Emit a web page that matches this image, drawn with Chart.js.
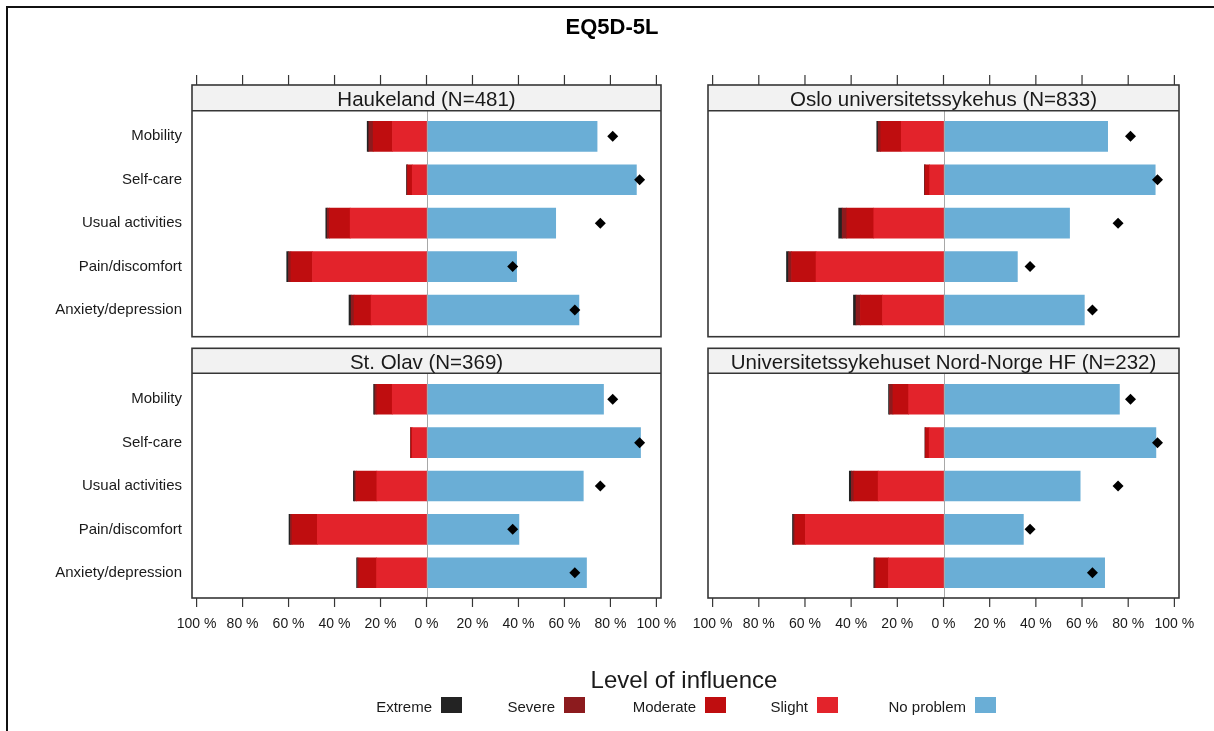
<!DOCTYPE html>
<html>
<head>
<meta charset="utf-8">
<title>EQ5D-5L</title>
<script src="https://cdn.jsdelivr.net/npm/chart.js@4.4.1/dist/chart.umd.min.js"></script>
<style>
  body { margin: 0; background: #fff; }
  #wrap { position: relative; width: 1214px; height: 731px; overflow: hidden; }
  #wrap canvas { position: absolute; left: 0; top: 0; }
</style>
</head>
<body>
<div id="wrap">
  <canvas id="panel0" width="1214" height="731"></canvas>
  <canvas id="panel1" width="1214" height="731"></canvas>
  <canvas id="panel2" width="1214" height="731"></canvas>
  <canvas id="panel3" width="1214" height="731"></canvas>
</div>
<script>
const dims = ['Mobility', 'Self-care', 'Usual activities', 'Pain/discomfort', 'Anxiety/depression'];
const hospitals = ['Haukeland (N=481)', 'Oslo universitetssykehus (N=833)', 'St. Olav (N=369)', 'Universitetssykehuset Nord-Norge HF (N=232)'];
const levels = ['Extreme', 'Severe', 'Moderate', 'Slight', 'No problem'];
const colors = ['#232323', '#8c1b1e', '#bf0d0f', '#e3232b', '#6aaed6'];
const tickValues = [-100, -80, -60, -40, -20, 0, 20, 40, 60, 80, 100];

// percent per hospital, in dims order
const noProblem = [
    [74.2, 91.3, 56.2, 39.2, 66.3],
    [71.1, 91.7, 54.6, 32.0, 61.0],
    [77.0, 93.1, 68.2, 40.2, 69.6],
    [76.2, 92.0, 59.2, 34.6, 69.8]
];
const slight = [
    [14.8, 6.2, 33.2, 49.6, 24.1],
    [18.3, 6.0, 30.2, 55.2, 26.4],
    [14.9, 6.2, 21.6, 47.5, 21.7],
    [15.1, 6.2, 28.3, 59.8, 23.8]
];
const moderate = [
    [8.4, 2.0, 9.1, 9.4, 7.4],
    [8.9, 1.9, 11.7, 10.6, 9.6],
    [6.7, 0.5, 8.9, 11.0, 7.7],
    [6.8, 1.5, 10.5, 4.5, 5.4]
];
const severe = [
    [1.9, 0.3, 0.9, 1.0, 1.3],
    [1.1, 0.3, 2.0, 1.3, 1.9],
    [0.9, 0.2, 0.7, 0.7, 0.6],
    [1.5, 0.3, 1.1, 0.6, 0.6]
];
const extreme = [
    [0.7, 0.2, 0.6, 0.8, 0.9],
    [0.6, 0.1, 1.5, 0.9, 1.1],
    [0.5, 0.0, 0.6, 0.6, 0.4],
    [0.4, 0.0, 0.9, 0.5, 0.4]
];
const norm = [81.0, 92.7, 75.6, 37.5, 64.5];

const W = 1214, H = 731;
const FONT = '"Liberation Sans", Arial, sans-serif';

// panel boxes on the page
const cols = [{ left: 192, right: 661 }, { left: 708, right: 1179 }];
const rows = [
    { stripTop: 85, stripBottom: 110.7, frameBottom: 336.7, plotTop: 114.6, plotBottom: 331.7 },
    { stripTop: 348.3, stripBottom: 373.3, frameBottom: 598, plotTop: 377.6, plotBottom: 594.4 }
];
const legendBoxX = [441, 564, 705, 817, 975];

function neg(arr) {
    return arr.map(v => -v);
}

function hline(ctx, x1, x2, y) {
    ctx.beginPath(); ctx.moveTo(x1, y); ctx.lineTo(x2, y); ctx.stroke();
}

function vline(ctx, x, y1, y2) {
    ctx.beginPath(); ctx.moveTo(x, y1); ctx.lineTo(x, y2); ctx.stroke();
}

function panelPlugin(i) {
    const r = rows[Math.floor(i / 2)];
    const leftCol = i % 2 == 0;
    const bottomRow = i >= 2;
    return {
        id: 'panel' + i,
        afterDatasetsDraw(chart) {
            const ctx = chart.ctx;
            const xs = chart.scales.x, ys = chart.scales.y, a = chart.chartArea;
            ctx.save();

            const x0 = xs.getPixelForValue(0);
            ctx.strokeStyle = '#a8a8a8';
            ctx.lineWidth = 1;
            vline(ctx, Math.round(x0) + 0.5, r.stripBottom, r.frameBottom);

            ctx.fillStyle = '#f2f2f2';
            ctx.fillRect(a.left, r.stripTop, a.right - a.left, r.stripBottom - r.stripTop);
            ctx.strokeStyle = '#363636';
            ctx.lineWidth = 1.6;
            ctx.strokeRect(a.left, r.stripTop, a.right - a.left, r.frameBottom - r.stripTop);
            hline(ctx, a.left, a.right, r.stripBottom);

            ctx.fillStyle = '#1a1a1a';
            ctx.font = '20.5px ' + FONT;
            ctx.textAlign = 'center';
            ctx.textBaseline = 'alphabetic';
            ctx.fillText(hospitals[i], (a.left + a.right) / 2, r.stripBottom - 4.5);

            // tick marks
            ctx.strokeStyle = '#363636';
            ctx.lineWidth = 1.2;
            ctx.font = '14px ' + FONT;
            ctx.textBaseline = 'middle';
            tickValues.forEach(v => {
                const px = xs.getPixelForValue(v);
                if (bottomRow) {
                    vline(ctx, px, r.frameBottom, r.frameBottom + 9);
                    ctx.fillText(Math.abs(v) + ' %', px, 624);
                } else {
                    vline(ctx, px, 75, r.stripTop);
                }
            });

            if (leftCol) {
                ctx.textAlign = 'right';
                ctx.font = '15px ' + FONT;
                dims.forEach((d, k) => {
                    ctx.fillText(d, a.left - 10, ys.getPixelForValue(k));
                });
            }
            ctx.restore();
        }
    };
}

const pageDecor = {
    id: 'pageDecor',
    afterDraw(chart) {
        const ctx = chart.ctx;
        ctx.save();
        ctx.fillStyle = '#111';
        ctx.fillRect(6, 6, W - 6, 2);
        ctx.fillRect(6, 6, 2, H - 6);

        ctx.fillStyle = '#000';
        ctx.textAlign = 'center';
        ctx.textBaseline = 'alphabetic';
        ctx.font = 'bold 22px ' + FONT;
        ctx.fillText('EQ5D-5L', 612, 34);

        ctx.fillStyle = '#1a1a1a';
        ctx.font = '24px ' + FONT;
        ctx.fillText('Level of influence', 684, 688);

        ctx.font = '15px ' + FONT;
        ctx.textAlign = 'right';
        levels.forEach((lv, k) => {
            ctx.fillStyle = colors[k];
            ctx.fillRect(legendBoxX[k], 697, 21, 16);
            ctx.fillStyle = '#1a1a1a';
            ctx.fillText(lv, legendBoxX[k] - 9, 712);
        });
        ctx.restore();
    }
};

function makePanel(i) {
    const c = cols[i % 2];
    const r = rows[Math.floor(i / 2)];
    const bar = { stack: 'a', barThickness: 30, borderWidth: 0 };
    const plugins = [panelPlugin(i)];
    if (i == 0) plugins.push(pageDecor);

    new Chart(document.getElementById('panel' + i), {
        type: 'bar',
        data: {
            labels: dims,
            datasets: [
                { ...bar, label: 'Slight', data: neg(slight[i]), backgroundColor: colors[3] },
                { ...bar, label: 'Moderate', data: neg(moderate[i]), backgroundColor: colors[2] },
                { ...bar, label: 'Severe', data: neg(severe[i]), backgroundColor: colors[1] },
                { ...bar, label: 'Extreme', data: neg(extreme[i]), backgroundColor: colors[0] },
                { ...bar, label: 'No problem', data: noProblem[i], backgroundColor: colors[4] },
                {
                    type: 'line', label: 'Norm', data: norm, stack: 'b', order: -1,
                    showLine: false, pointStyle: 'rectRot', pointRadius: 5.5,
                    backgroundColor: '#000', borderColor: '#000', borderWidth: 0
                }
            ]
        },
        options: {
            indexAxis: 'y',
            responsive: false,
            animation: false,
            devicePixelRatio: 1,
            layout: {
                padding: { left: c.left, right: W - c.right, top: r.plotTop, bottom: H - r.plotBottom }
            },
            scales: {
                x: { type: 'linear', min: -102, max: 102, stacked: true, display: false },
                y: { type: 'category', stacked: true, display: false, offset: true }
            },
            plugins: {
                legend: { display: false },
                title: { display: false },
                tooltip: { enabled: false }
            }
        },
        plugins: plugins
    });
}

for (let i = 0; i < 4; i++) {
    makePanel(i);
}
</script>
</body>
</html>
